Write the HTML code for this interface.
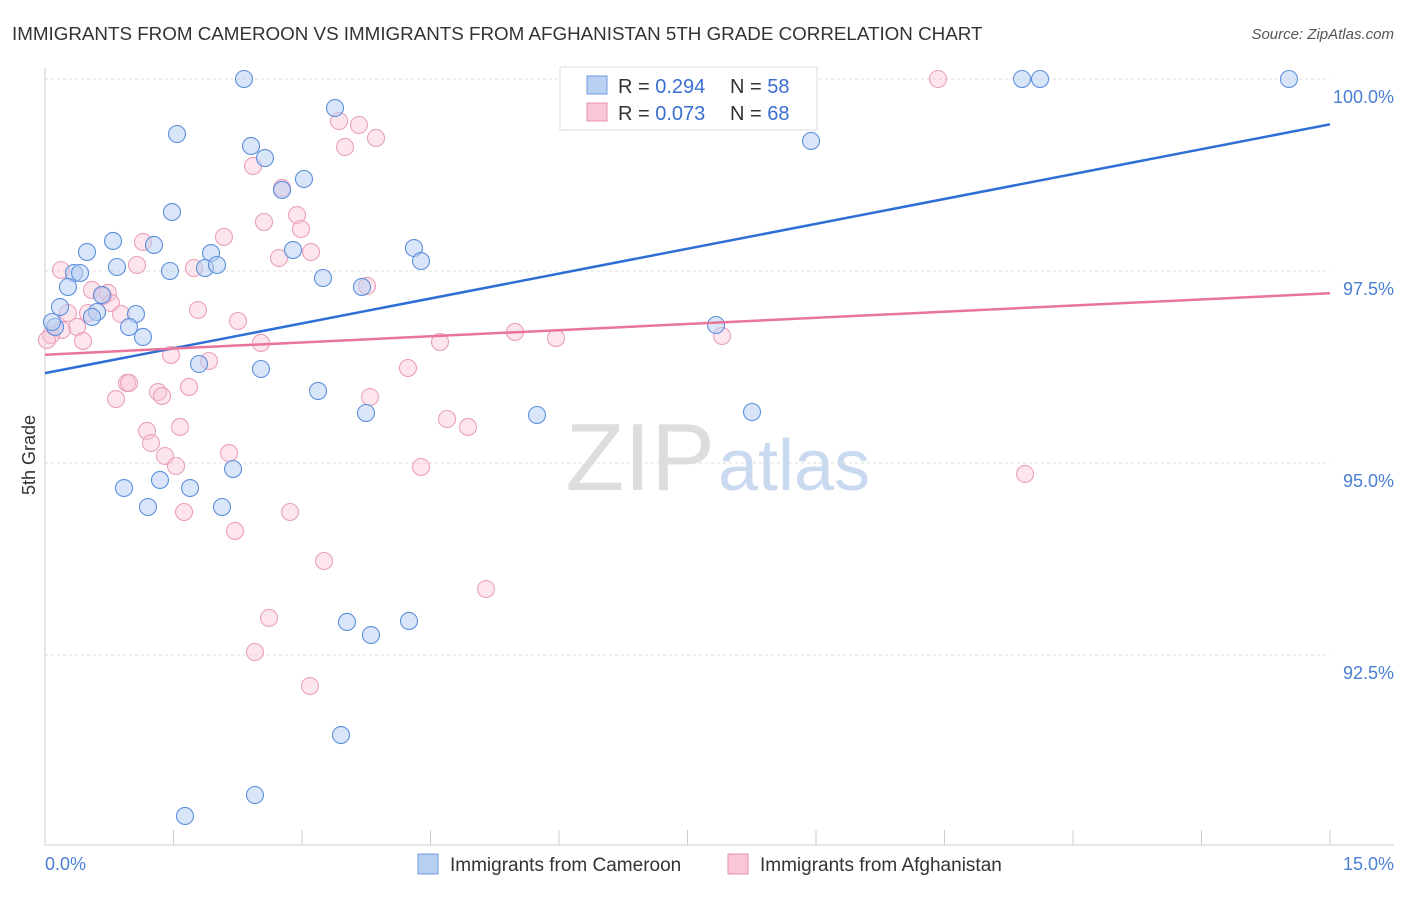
<!DOCTYPE html>
<html><head><meta charset="utf-8"><style>
body{margin:0;background:#fff;font-family:"Liberation Sans",sans-serif}
svg text{font-family:"Liberation Sans",sans-serif}
</style></head><body>
<svg width="1406" height="892" xmlns="http://www.w3.org/2000/svg">
<text x="12" y="40" font-size="18.8" fill="#333">IMMIGRANTS FROM CAMEROON VS IMMIGRANTS FROM AFGHANISTAN 5TH GRADE CORRELATION CHART</text>
<text x="1394" y="39" font-size="15" fill="#555" font-style="italic" text-anchor="end">Source: ZipAtlas.com</text>
<g id="grid"></g>
<text x="715" y="490" font-size="96" fill="#ddd" text-anchor="end" font-family="Liberation Serif">ZIP</text>
<text x="718" y="490" font-size="72" fill="#c9d9ef">atlas</text>
<line x1="45" y1="68" x2="45" y2="845" stroke="#ccc"/>
<line x1="45" y1="845" x2="1394" y2="845" stroke="#ccc"/>
<text x="35" y="455" font-size="18" fill="#333" transform="rotate(-90 35 455)" text-anchor="middle">5th Grade</text>
<text x="45" y="870" font-size="18" fill="#4a7fd4">0.0%</text>
<text x="1394" y="870" font-size="18" fill="#4a7fd4" text-anchor="end">15.0%</text>
<g id="marks"></g>
<g>
<rect x="560" y="67" width="257" height="63" fill="#fff" stroke="#ddd"/>
<rect x="587" y="76" width="20" height="18" fill="#b9d0f2" stroke="#6d9be0"/>
<rect x="587" y="103" width="20" height="18" fill="#f8c6d6" stroke="#e890ae"/>
<text x="618" y="93" font-size="20" fill="#333">R = <tspan fill="#3a6fd0">0.294</tspan></text>
<text x="730" y="93" font-size="20" fill="#333">N = <tspan fill="#3a6fd0">58</tspan></text>
<text x="618" y="120" font-size="20" fill="#333">R = <tspan fill="#3a6fd0">0.073</tspan></text>
<text x="730" y="120" font-size="20" fill="#333">N = <tspan fill="#3a6fd0">68</tspan></text>
</g>
<g>
<rect x="418" y="854" width="20" height="20" fill="#b9d0f2" stroke="#6d9be0"/>
<text x="450" y="871" font-size="19" fill="#333">Immigrants from Cameroon</text>
<rect x="728" y="854" width="20" height="20" fill="#f8c6d6" stroke="#e890ae"/>
<text x="760" y="871" font-size="19" fill="#333">Immigrants from Afghanistan</text>
</g>
</svg>
<script>
const yTicks=[100,97.5,95,92.5];
const yTickLabels=["100.0%","97.5%","95.0%","92.5%"];
const xTicks=[0,1.5,3,4.5,6,7.5,9,10.5,12,13.5,15];
const bluePx=[[244,79],[618,79],[785,79],[1022,79],[1040,79],[1289,79],[335,108],[177,134],[811,141],[251,146],[265,158],[304,179],[282,190],[172,212],[113,241],[87,252],[154,245],[211,253],[293,250],[414,248],[421,261],[117,267],[74,273],[80,273],[170,271],[205,268],[217,265],[323,278],[68,287],[362,287],[60,307],[102,295],[97,312],[136,314],[92,317],[129,327],[143,337],[55,327],[52,322],[716,325],[199,364],[261,369],[318,391],[366,413],[537,415],[752,412],[233,469],[160,480],[124,488],[190,488],[148,507],[222,507],[347,622],[371,635],[409,621],[341,735],[255,795],[185,816]];
const pinkPx=[[630,79],[938,79],[339,121],[359,125],[376,138],[345,147],[253,166],[282,188],[264,222],[297,215],[301,229],[224,237],[143,242],[311,252],[279,258],[137,265],[194,268],[61,270],[92,290],[108,293],[103,296],[111,303],[68,313],[88,313],[121,314],[198,310],[238,321],[77,327],[62,330],[51,335],[47,340],[83,341],[261,343],[440,342],[515,332],[556,338],[722,336],[171,355],[209,361],[408,368],[127,383],[129,383],[116,399],[158,392],[162,396],[189,387],[370,397],[447,419],[468,427],[180,427],[147,431],[151,443],[165,456],[229,453],[176,466],[421,467],[1025,474],[184,512],[290,512],[235,531],[324,561],[486,589],[269,618],[255,652],[310,686],[367,286]];
const blueX=bluePx.map(p=>+((p[0]-45)/85.667).toFixed(3)), blueY=bluePx.map(p=>+(100-(p[1]-79)/76.8).toFixed(3));
const pinkX=pinkPx.map(p=>+((p[0]-45)/85.667).toFixed(3)), pinkY=pinkPx.map(p=>+(100-(p[1]-79)/76.8).toFixed(3));
const blueTrend=[96.17,99.41], pinkTrend=[96.41,97.21];
const X=v=>45+v*85.667, Y=v=>79+(100-v)*76.8;
const NS="http://www.w3.org/2000/svg";
const grid=document.getElementById('grid'), marks=document.getElementById('marks');
function mk(tag,at,parent){const e=document.createElementNS(NS,tag);for(const k in at)e.setAttribute(k,at[k]);parent.appendChild(e);return e;}
yTicks.forEach((t,i)=>{
 const l=mk('line',{x1:45,x2:1330,y1:Y(t),y2:Y(t),stroke:'#ddd','stroke-dasharray':'3,3'},grid);
 
 
 const tx=mk('text',{x:1394,y:Y(t)+24,'font-size':18,fill:'#4a7fd4','text-anchor':'end'},grid);
 tx.textContent=yTickLabels[i];
 
 
});
xTicks.forEach(t=>{
 const l=mk('line',{x1:X(t),x2:X(t),y1:830,y2:845,stroke:'#ccc'},grid);
 
 
});
function pts(xs,ys,fill,stroke,op,name){
 xs.forEach((x,i)=>{
  const c=mk('circle',{cx:X(x),cy:Y(ys[i]),r:8.5,fill:fill,'fill-opacity':op,stroke:stroke,'stroke-width':1.1},marks);
  
  
 });
}
pts(pinkX,pinkY,'#f8c6d6','#eaa0ba',0.45,'afghanistan-point');
pts(blueX,blueY,'#b9d0f2','#5d8fdc',0.55,'cameroon-point');
const bl=mk('line',{x1:X(0),y1:Y(blueTrend[0]),x2:X(15),y2:Y(blueTrend[1]),stroke:'#2e6fd6','stroke-width':2.5},marks);


const pl=mk('line',{x1:X(0),y1:Y(pinkTrend[0]),x2:X(15),y2:Y(pinkTrend[1]),stroke:'#e8749a','stroke-width':2.5},marks);


</script>
</body></html>
